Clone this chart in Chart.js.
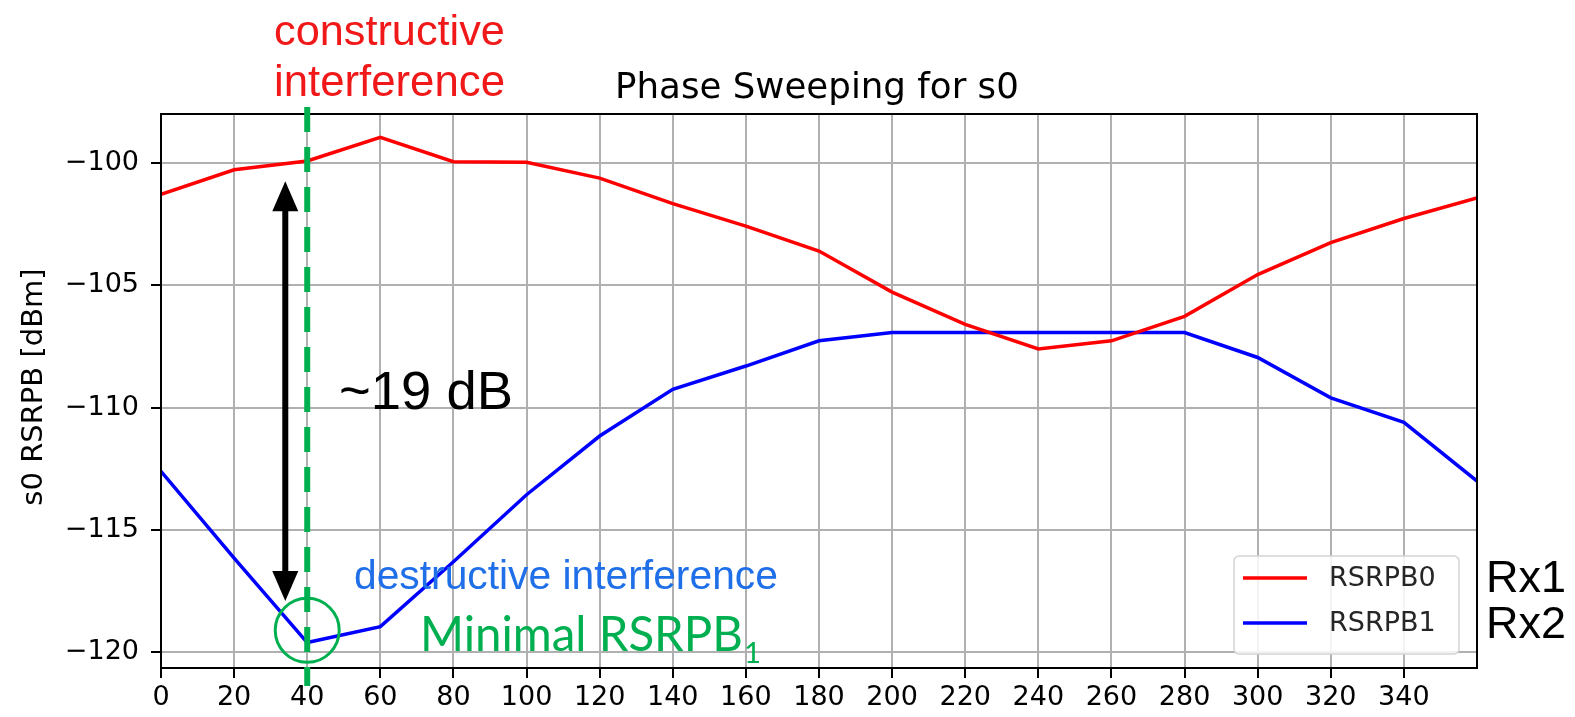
<!DOCTYPE html>
<html><head><meta charset="utf-8">
<script src="https://cdn.jsdelivr.net/npm/chart.js@4.4.0/dist/chart.umd.min.js"></script>
<style>html,body{margin:0;padding:0;background:#fff;overflow:hidden}#wrap{width:1575px;height:717px;position:relative}</style>
</head><body><div id="wrap"><canvas id="c" width="1575" height="717"></canvas></div>
<script>
// ---- data ----
const phaseDeg = [0,20,40,60,80,100,120,140,160,180,200,220,240,260,280,300,320,340,360];
const rsrpb0 = [-101.28,-100.28,-99.92,-98.95,-99.95,-99.97,-100.62,-101.66,-102.58,-103.6,-105.28,-106.6,-107.6,-107.27,-106.27,-104.56,-103.26,-102.27,-101.43];
const rsrpb1 = [-112.6,-116.15,-119.6,-118.95,-116.3,-113.56,-111.16,-109.25,-108.3,-107.27,-106.93,-106.93,-106.93,-106.93,-106.93,-107.95,-109.6,-110.6,-113.0];
const seriesNames = ['RSRPB0','RSRPB1'];
const seriesColors = ['#ff0000','#0000ff'];
const xTickValues = [0,20,40,60,80,100,120,140,160,180,200,220,240,260,280,300,320,340];
const yTickValues = [-120,-115,-110,-105,-100];
const rxLabels = ['Rx1','Rx2'];
const chartTitle = 'Phase Sweeping for s0';
const yAxisTitle = 's0 RSRPB [dBm]';
const markPhase = 40;            // constructive / destructive phase
const arrowPhase = 34;           // double arrow position
const arrowTop = -100.75, arrowBottom = -117.9;
const circleValue = -119.1;

const GREEN = '#00b050';

function fitText(ctx, text, family, width){
  ctx.font = '100px ' + family;
  const w = ctx.measureText(text).width;
  return 100 * width / w;
}

const annot = {
  id:'annot',
  afterDatasetsDraw(chart){
    const ctx = chart.ctx, a = chart.chartArea;
    const xs = chart.scales.x, ys = chart.scales.y;
    ctx.save();
    // spines
    ctx.strokeStyle = '#000'; ctx.lineWidth = 2;
    ctx.strokeRect(a.left, a.top, a.right - a.left, a.bottom - a.top);

    // title
    ctx.fillStyle = '#000';
    ctx.textBaseline = 'alphabetic';
    ctx.textAlign = 'left';
    let s = fitText(ctx, chartTitle, '"DejaVu Sans"', 404);
    ctx.font = s + 'px "DejaVu Sans"';
    ctx.fillText(chartTitle, 615, 98);

    // y axis title
    ctx.save();
    ctx.translate(34, 387);
    ctx.rotate(-Math.PI/2);
    ctx.font = '29px "DejaVu Sans"';
    ctx.textAlign = 'center';
    ctx.textBaseline = 'middle';
    ctx.fillText(yAxisTitle, 0, 0);
    ctx.restore();

    // legend (matplotlib style)
    const lx = 1234, ly = 556, lw = 225, lh = 98;
    ctx.beginPath();
    if (ctx.roundRect) ctx.roundRect(lx, ly, lw, lh, 5); else ctx.rect(lx, ly, lw, lh);
    ctx.fillStyle = 'rgba(255,255,255,0.85)'; ctx.fill();
    ctx.strokeStyle = '#d4d4d4'; ctx.lineWidth = 1.5; ctx.stroke();
    chart.data.datasets.forEach((ds, i) => {
      const yy = 578 + i * 45;
      ctx.strokeStyle = ds.borderColor; ctx.lineWidth = 3.5;
      ctx.beginPath(); ctx.moveTo(1243, yy); ctx.lineTo(1307, yy); ctx.stroke();
      ctx.fillStyle = '#262626';
      ctx.font = '27px "DejaVu Sans"';
      ctx.textAlign = 'left'; ctx.textBaseline = 'middle';
      ctx.fillText(ds.label, 1329, yy + 1);
    });

    // green dashed vertical line
    const gx = xs.getPixelForValue(markPhase);
    ctx.strokeStyle = GREEN; ctx.lineWidth = 6;
    ctx.setLineDash([25, 15]);
    ctx.beginPath(); ctx.moveTo(gx, 107); ctx.lineTo(gx, 686); ctx.stroke();
    ctx.setLineDash([]);

    // circle
    ctx.lineWidth = 3;
    ctx.beginPath(); ctx.arc(gx, ys.getPixelForValue(circleValue), 32, 0, Math.PI*2); ctx.stroke();

    // double arrow
    const ax = xs.getPixelForValue(arrowPhase);
    const t = ys.getPixelForValue(arrowTop), b = ys.getPixelForValue(arrowBottom);
    const hl = 30, hw = 13;
    ctx.fillStyle = '#000'; ctx.strokeStyle = '#000'; ctx.lineWidth = 6;
    ctx.beginPath(); ctx.moveTo(ax, t + hl - 2); ctx.lineTo(ax, b - hl + 2); ctx.stroke();
    ctx.beginPath(); ctx.moveTo(ax, t); ctx.lineTo(ax - hw, t + hl); ctx.lineTo(ax + hw, t + hl); ctx.closePath(); ctx.fill();
    ctx.beginPath(); ctx.moveTo(ax, b); ctx.lineTo(ax - hw, b - hl); ctx.lineTo(ax + hw, b - hl); ctx.closePath(); ctx.fill();

    // annotation texts
    ctx.textAlign = 'left'; ctx.textBaseline = 'alphabetic';
    ctx.fillStyle = '#f01818';
    s = fitText(ctx, 'constructive', '"Liberation Sans"', 231);
    ctx.font = s + 'px "Liberation Sans"'; ctx.fillText('constructive', 274, 45);
    s = fitText(ctx, 'interference', '"Liberation Sans"', 231);
    ctx.font = s + 'px "Liberation Sans"'; ctx.fillText('interference', 274, 96);

    ctx.fillStyle = '#000';
    s = fitText(ctx, '~19 dB', '"Liberation Sans"', 174);
    ctx.font = s + 'px "Liberation Sans"'; ctx.fillText('~19 dB', 339, 409);

    ctx.fillStyle = '#1f6fe8';
    s = fitText(ctx, 'destructive interference', '"Liberation Sans"', 424);
    ctx.font = s + 'px "Liberation Sans"'; ctx.fillText('destructive interference', 354, 589);

    ctx.fillStyle = GREEN;
    s = fitText(ctx, 'Minimal RSRPB', 'Lato', 323);
    ctx.font = s + 'px Lato'; ctx.fillText('Minimal RSRPB', 420, 651);
    ctx.font = (s*0.62) + 'px Lato'; ctx.fillText('1', 744, 663);

    // Rx labels
    ctx.fillStyle = '#000';
    rxLabels.forEach((r, i) => {
      ctx.font = '45px "Liberation Sans"';
      ctx.fillText(r, 1486, 592 + i * 46);
    });
    ctx.restore();
  }
};

const ctx = document.getElementById('c').getContext('2d');
new Chart(ctx, {
  type: 'line',
  data: {
    datasets: [
      { label: seriesNames[0], data: phaseDeg.map((x, i) => ({x, y: rsrpb0[i]})), borderColor: seriesColors[0], borderWidth: 3.5, pointRadius: 0, tension: 0, fill: false },
      { label: seriesNames[1], data: phaseDeg.map((x, i) => ({x, y: rsrpb1[i]})), borderColor: seriesColors[1], borderWidth: 3.5, pointRadius: 0, tension: 0, fill: false }
    ]
  },
  options: {
    responsive: false, animation: false, devicePixelRatio: 1,
    layout: { padding: { left: 0, right: 98, top: 114, bottom: 0 } },
    plugins: { legend: { display: false }, tooltip: { enabled: false }, title: { display: false } },
    scales: {
      x: {
        type: 'linear', min: 0, max: 360,
        afterBuildTicks: s => { s.ticks = xTickValues.map(v => ({ value: v })); },
        afterFit: s => { s.height = 49; },
        border: { display: false },
        grid: { color: '#b0b0b0', lineWidth: 2, tickColor: '#000', tickLength: 10, tickWidth: 2 },
        ticks: { color: '#000', font: { family: 'DejaVu Sans', size: 27 }, padding: 4, maxRotation: 0, autoSkip: false, callback: v => String(v) }
      },
      y: {
        type: 'linear', min: -120.64, max: -98.0,
        afterBuildTicks: s => { s.ticks = yTickValues.map(v => ({ value: v })); },
        afterFit: s => { s.width = 161; },
        border: { display: false },
        grid: { color: '#b0b0b0', lineWidth: 2, tickColor: '#000', tickLength: 10, tickWidth: 2 },
        ticks: { color: '#000', font: { family: 'DejaVu Sans', size: 27 }, padding: 12, autoSkip: false, callback: v => (v < 0 ? '\u2212' + Math.abs(v) : String(v)) }
      }
    }
  },
  plugins: [annot]
});
</script>
</body></html>
